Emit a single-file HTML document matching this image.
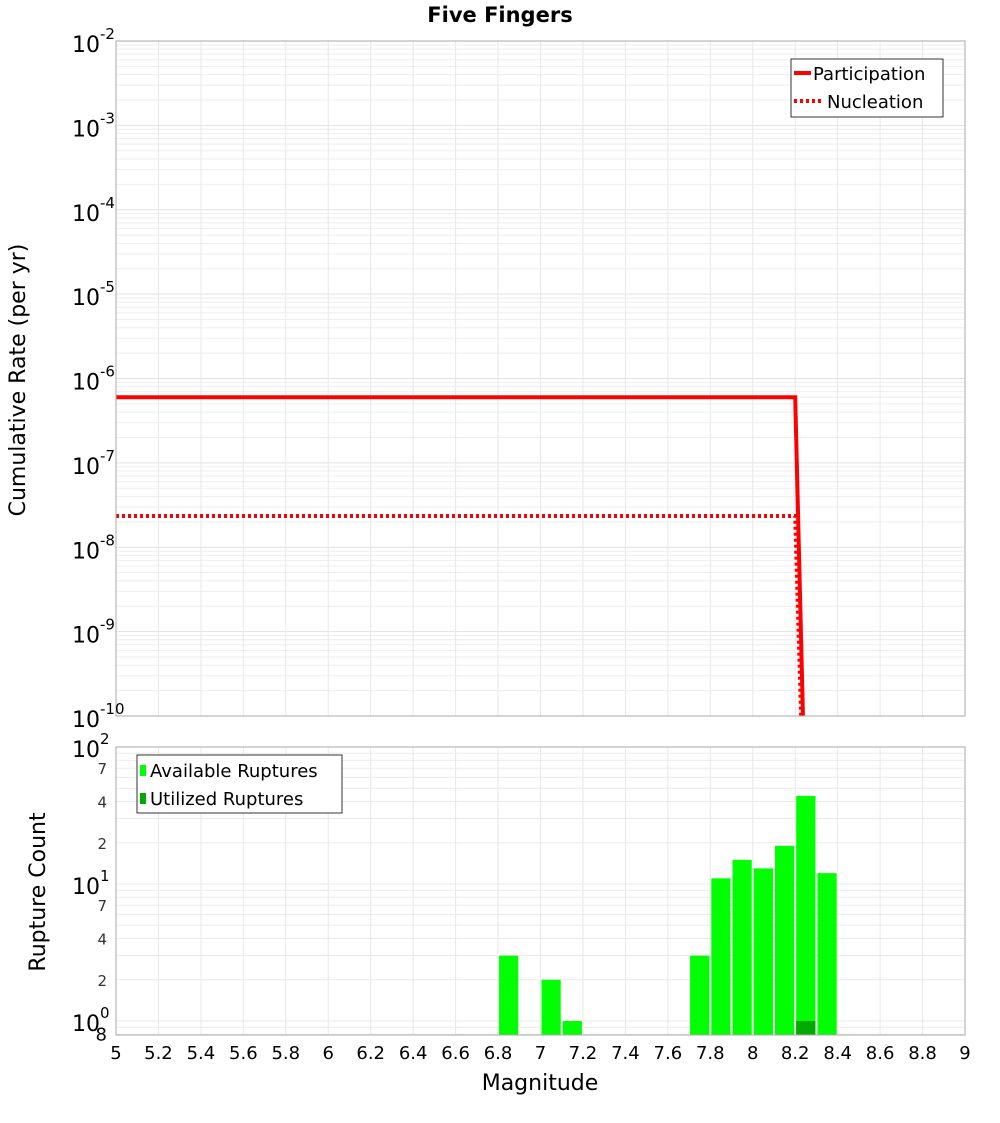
<!DOCTYPE html>
<html><head><meta charset="utf-8">
<style>
body{margin:0;background:#fff;font-family:"Liberation Sans","DejaVu Sans",sans-serif;}
svg text{font-family:"DejaVu Sans","Liberation Sans",sans-serif;}
</style></head>
<body>
<svg id="c" width="1000" height="1100" xmlns="http://www.w3.org/2000/svg">
<rect width="1000" height="1100" fill="#fff"/>
<text x="500" y="22" text-anchor="middle" font-size="21" font-weight="bold">Five Fingers</text>
<g id="g"></g>
</svg>
<script>
// data
const partMags=[5,8.2,8.25];
const partRates=[6.0e-7,6.0e-7,4e-12];
const nuclMags=[5,8.2,8.25];
const nuclRates=[2.35e-8,2.35e-8,1.3e-12];
const binMags=[6.85,7.05,7.15,7.75,7.85,7.95,8.05,8.15,8.25,8.35];
const availCounts=[3,2,1,3,11,15,13,19,44,12];
const utilMags=[8.25];
const utilCounts=[1];
const xTicks=["5","5.2","5.4","5.6","5.8","6","6.2","6.4","6.6","6.8","7","7.2","7.4","7.6","7.8","8","8.2","8.4","8.6","8.8","9"];
const topExps=[-2,-3,-4,-5,-6,-7,-8,-9,-10];

const NS="http://www.w3.org/2000/svg";
const g=document.getElementById('g');
function el(t,a,p){const e=document.createElementNS(NS,t);for(const k in a)e.setAttribute(k,a[k]);(p||g).appendChild(e);return e;}
const X0=116,X1=965;
const xs=m=>X0+(m-5)/4*(X1-X0);
const T0=41,T1=716;
const ty=v=>T0+(-2-Math.log10(v))/8*(T1-T0);
const B0=747,B1=1035,BD=137;
const by=v=>B0+(2-Math.log10(v))*BD;

// top grid
const gridT=el('g',{});

for(let e=-10;e<-2;e++)for(let k=1;k<10;k++){const y=ty(k*Math.pow(10,e));if(y<T0||y>T1)continue;
 el('line',{x1:X0,x2:X1,y1:y,y2:y,stroke:k==1?'#e2e2e2':'#eeeeee','stroke-width':1},gridT);}
xTicks.forEach(t=>{const x=xs(+t);el('line',{x1:x,x2:x,y1:T0,y2:T1,stroke:'#e8e8e8'},gridT);});
// bottom grid
const gridB=el('g',{});

for(let e=-1;e<2;e++)for(let k=1;k<10;k++){const y=by(k*Math.pow(10,e));if(y<B0||y>B1)continue;
 el('line',{x1:X0,x2:X1,y1:y,y2:y,stroke:'#eaeaea'},gridB);}
xTicks.forEach(t=>{const x=xs(+t);el('line',{x1:x,x2:x,y1:B0,y2:B1,stroke:'#e8e8e8'},gridB);});

// top lines
const clip=el('clipPath',{id:'cp'});el('rect',{x:X0,y:T0,width:X1-X0,height:T1-T0},clip);
function poly(ms,vs,dash,name){const pts=ms.map((m,i)=>xs(m)+','+ty(vs[i])).join(' ');
 const p=el('polyline',{points:pts,fill:'none',stroke:'#ff0000','stroke-width':4,'clip-path':'url(#cp)'});
 if(dash)p.setAttribute('stroke-dasharray','3,3');
 }
poly(nuclMags,nuclRates,true,'nucleation-line');
poly(partMags,partRates,false,'participation-line');

// bars
binMags.forEach((m,i)=>{const r=el('rect',{x:xs(m-0.05)+1,y:by(availCounts[i]),width:(X1-X0)/40-2,height:B1-by(availCounts[i]),fill:'#00ff00'});
 });
utilMags.forEach((m,i)=>{const r=el('rect',{x:xs(m-0.05)+1,y:by(utilCounts[i]),width:(X1-X0)/40-2,height:B1-by(utilCounts[i]),fill:'#00aa00'});
 });

// frames
el('rect',{x:X0,y:T0,width:X1-X0,height:T1-T0,fill:'none',stroke:'#aaa'});
el('rect',{x:X0,y:B0,width:X1-X0,height:B1-B0,fill:'none',stroke:'#aaa'});

// top y labels
topExps.forEach(e=>{const y=ty(Math.pow(10,e));
 const t=el('text',{x:110,y:y+11,'text-anchor':'end','font-size':22});
 
 t.innerHTML='10<tspan dy="-13" font-size="15">'+e+'</tspan>';
 t.setAttribute('x',72);t.setAttribute('text-anchor','start');});
// bottom y labels
[[100,'2'],[10,'1'],[1,'0']].forEach(([v,e])=>{const y=by(v);
 const t=el('text',{x:72,y:y+10,'font-size':22});
 
 t.innerHTML='10<tspan dy="-13" font-size="15">'+e+'</tspan>';});
[[70,'7'],[40,'4'],[20,'2'],[7,'7'],[4,'4'],[2,'2'],[0.8,'8']].forEach(([v,s])=>{
 const t=el('text',{x:107,y:by(v)+6,'text-anchor':'end','font-size':v==0.8?18:15,fill:v==0.8?'#000':'#333'});
 t.textContent=s;});
// x labels
xTicks.forEach(s=>{const t=el('text',{x:xs(+s),y:1059,'text-anchor':'middle','font-size':18});t.textContent=s;
 });
</script>
<svg width="0" height="0"></svg>
<div style="position:absolute;left:0;top:0;width:1000px;height:1100px;pointer-events:none">
<svg width="1000" height="1100" xmlns="http://www.w3.org/2000/svg">
<text x="540" y="1090" text-anchor="middle" font-size="22" font-family="DejaVu Sans, sans-serif">Magnitude</text>
<text transform="translate(25,380) rotate(-90)" text-anchor="middle" font-size="22" font-family="DejaVu Sans, sans-serif">Cumulative Rate (per yr)</text>
<text transform="translate(45,892) rotate(-90)" text-anchor="middle" font-size="22" font-family="DejaVu Sans, sans-serif">Rupture Count</text>
<g>
<rect x="791" y="59" width="152" height="58" fill="#fff" stroke="#333"/>
<line x1="794" x2="811" y1="73" y2="73" stroke="#f00" stroke-width="4"/>
<text x="813" y="80" font-size="18" font-family="DejaVu Sans, sans-serif">Participation</text>
<line x1="794" x2="821" y1="101" y2="101" stroke="#f00" stroke-width="4" stroke-dasharray="3,3"/>
<text x="827" y="108" font-size="18" font-family="DejaVu Sans, sans-serif">Nucleation</text>
</g>
<g>
<rect x="137" y="755" width="205" height="58" fill="#fff" stroke="#333"/>
<rect x="140" y="765" width="6" height="11" fill="#00ff00"/>
<text x="150" y="777" font-size="18" font-family="DejaVu Sans, sans-serif">Available Ruptures</text>
<rect x="140" y="793" width="6" height="11" fill="#00aa00"/>
<text x="150" y="805" font-size="18" font-family="DejaVu Sans, sans-serif">Utilized Ruptures</text>
</g>
</svg></div>
</body></html>
